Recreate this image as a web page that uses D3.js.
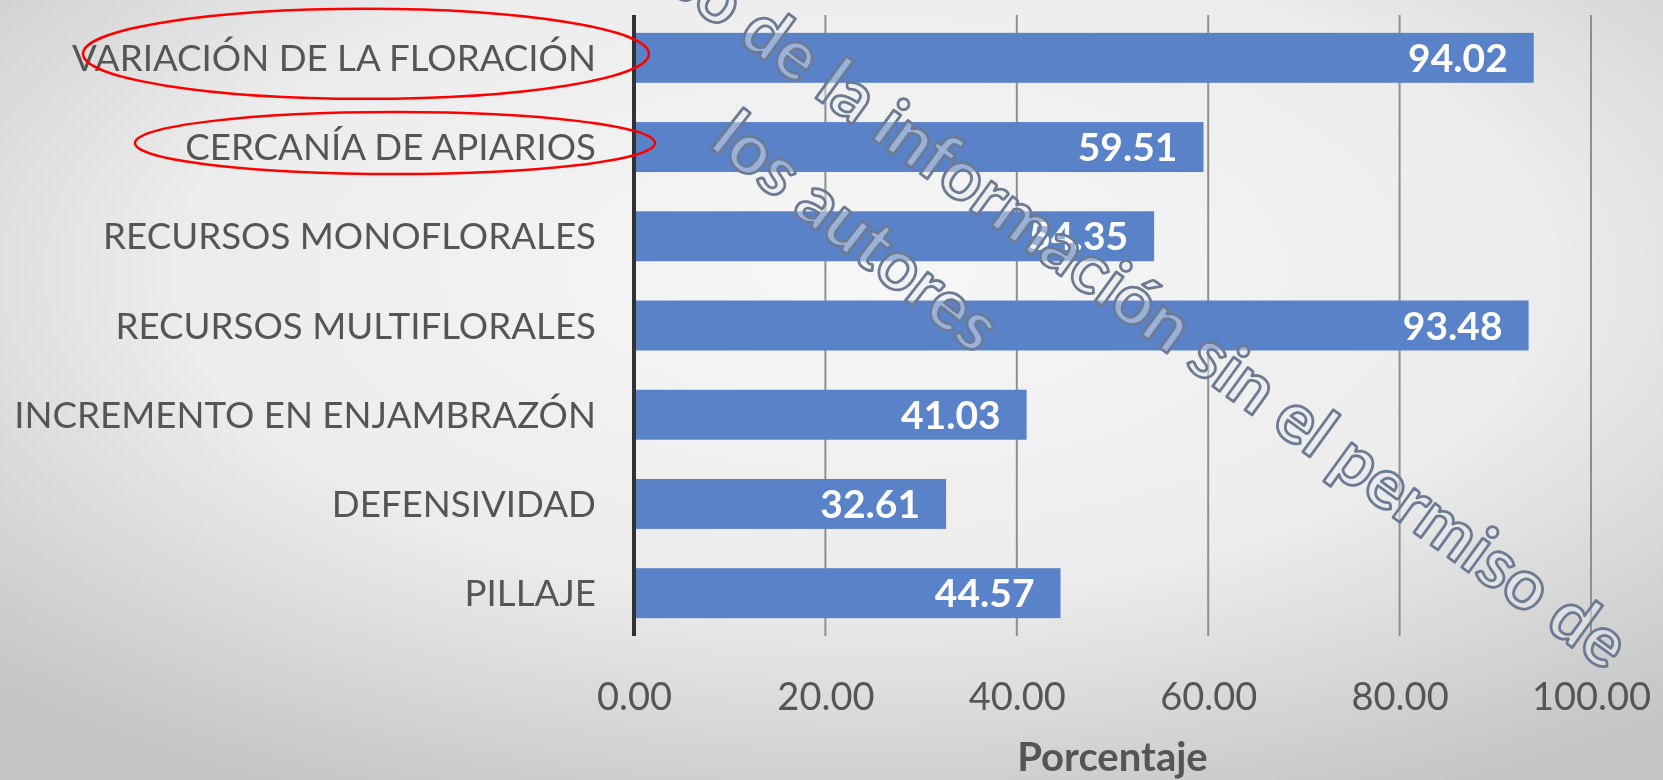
<!DOCTYPE html>
<html>
<head>
<meta charset="utf-8">
<script src="https://cdn.jsdelivr.net/npm/d3@7"></script>
<style>
  html, body { margin: 0; padding: 0; overflow: hidden; }
  svg { display: block; }
</style>
</head>
<body>
<svg id="chart" width="1663" height="780"></svg>
<script>
// data
const categories = [
    'VARIACIÓN DE LA FLORACIÓN',
    'CERCANÍA DE APIARIOS',
    'RECURSOS MONOFLORALES',
    'RECURSOS MULTIFLORALES',
    'INCREMENTO EN ENJAMBRAZÓN',
    'DEFENSIVIDAD',
    'PILLAJE'
];
const values = [94.02, 59.51, 54.35, 93.48, 41.03, 32.61, 44.57];
const xTicks = [0, 20, 40, 60, 80, 100];
const axisTitle = 'Porcentaje';
const highlighted = ['VARIACIÓN DE LA FLORACIÓN', 'CERCANÍA DE APIARIOS'];
const watermark = ['Prohibido el uso de la información sin el permiso de', 'los autores'];

const svg = d3.select('#chart');
const W = 1663, H = 780;
const margin = { top: 15, left: 634, right: 72, bottom: 144 };

const defs = svg.append('defs');
const bg = defs.append('radialGradient')
    .attr('id', 'bg')
    .attr('cx', '52%').attr('cy', '35%').attr('r', '75%');
bg.append('stop').attr('offset', '0%').attr('stop-color', '#f7f7f7');
bg.append('stop').attr('offset', '55%').attr('stop-color', '#ececec');
bg.append('stop').attr('offset', '100%').attr('stop-color', '#c4c4c4');

defs.append('filter').attr('id', 'soft')
    .append('feGaussianBlur').attr('stdDeviation', 0.7);

svg.append('rect').attr('width', W).attr('height', H).attr('fill', 'url(#bg)');

const x = d3.scaleLinear()
    .domain([0, 100])
    .range([margin.left, W - margin.right]);

const y = d3.scaleBand()
    .domain(categories)
    .range([margin.top, H - margin.bottom])
    .paddingInner(0.44)
    .paddingOuter(0.2);

const g = svg.append('g').attr('filter', 'url(#soft)');

// vertical gridlines
g.append('g')
    .selectAll('line')
    .data(xTicks.slice(1))
    .enter()
    .append('line')
    .attr('x1', d => x(d)).attr('x2', d => x(d))
    .attr('y1', margin.top).attr('y2', H - margin.bottom)
    .attr('stroke', '#8f8f8f')
    .attr('stroke-width', 2);

// bars
g.append('g')
    .selectAll('rect')
    .data(values)
    .enter()
    .append('rect')
    .attr('x', x(0))
    .attr('y', (d, i) => y(categories[i]))
    .attr('width', d => x(d) - x(0))
    .attr('height', y.bandwidth())
    .attr('fill', '#5a82c9');

// value labels inside end
g.append('g')
    .selectAll('text')
    .data(values)
    .enter()
    .append('text')
    .attr('x', d => x(d) - 26)
    .attr('y', (d, i) => y(categories[i]) + y.bandwidth() / 2)
    .attr('dy', '0.36em')
    .attr('text-anchor', 'end')
    .attr('font-family', 'Lato, sans-serif')
    .attr('font-weight', 'bold')
    .attr('font-size', 39)
    .attr('fill', '#ffffff')
    .text(d => d.toFixed(2));

// left axis line
g.append('line')
    .attr('x1', x(0)).attr('x2', x(0))
    .attr('y1', margin.top).attr('y2', H - margin.bottom)
    .attr('stroke', '#333333')
    .attr('stroke-width', 4);

// category labels
g.append('g')
    .selectAll('text')
    .data(categories)
    .enter()
    .append('text')
    .attr('x', x(0) - 38)
    .attr('y', d => y(d) + y.bandwidth() / 2)
    .attr('dy', '0.36em')
    .attr('text-anchor', 'end')
    .attr('font-family', 'Lato, sans-serif')
    .attr('font-size', 36.7)
    .attr('fill', '#555555')
    .text(d => d);

// x tick labels
const xAxis = d3.axisBottom(x)
    .tickValues(xTicks)
    .tickFormat(d3.format('.2f'))
    .tickSize(0)
    .tickPadding(0);

const ax = g.append('g')
    .attr('transform', `translate(0, ${H - margin.bottom + 60})`)
    .call(xAxis);
ax.select('.domain').remove();
ax.selectAll('text')
    .attr('font-family', 'Lato, sans-serif')
    .attr('font-size', 38)
    .attr('fill', '#555555')
    .attr('dy', '0.36em');

g.append('text')
    .attr('x', (x(0) + x(100)) / 2)
    .attr('y', 757)
    .attr('dy', '0.36em')
    .attr('text-anchor', 'middle')
    .attr('font-family', 'Lato, sans-serif')
    .attr('font-weight', 'bold')
    .attr('font-size', 40)
    .attr('fill', '#555555')
    .text(axisTitle);

// red annotation ellipses around highlighted categories
svg.append('g')
    .selectAll('ellipse')
    .data(highlighted)
    .enter()
    .append('ellipse')
    .attr('cx', (d, i) => i === 0 ? 366 : 395)
    .attr('cy', d => y(d) + y.bandwidth() / 2 - 4)
    .attr('rx', (d, i) => i === 0 ? 283 : 260)
    .attr('ry', (d, i) => i === 0 ? 45 : 31)
    .attr('fill', 'none')
    .attr('stroke', '#ff0000')
    .attr('stroke-width', 2.5);

// watermark, outlined text
const wm = svg.append('g')
    .attr('font-family', 'Lato, sans-serif')
    .attr('font-weight', 'bold')
    .attr('font-size', 70)
    .attr('fill', 'rgba(232,234,238,0.45)')
    .attr('stroke', '#6c7b93')
    .attr('stroke-width', 2.8)
    .attr('stroke-linejoin', 'round');

wm.append('text')
    .attr('text-anchor', 'end')
    .attr('transform', 'translate(1606, 672) rotate(36)')
    .text(watermark[0]);

wm.append('text')
    .attr('text-anchor', 'start')
    .attr('transform', 'translate(708, 146) rotate(38)')
    .text(watermark[1]);
</script>
</body>
</html>
